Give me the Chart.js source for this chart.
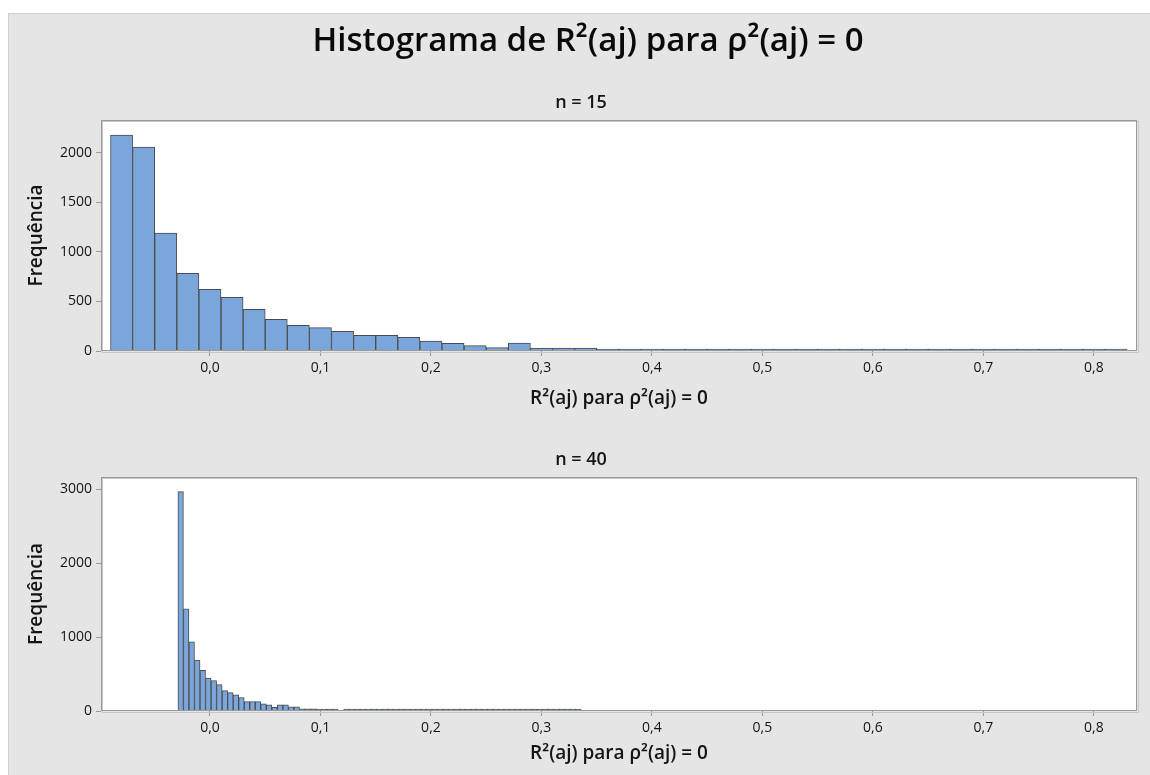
<!DOCTYPE html>
<html>
<head>
<meta charset="utf-8">
<script src="https://cdn.jsdelivr.net/npm/chart.js@4/dist/chart.umd.min.js"></script>
<style>
  body { margin: 0; background: #fff; width: 1150px; height: 775px; overflow: hidden; position: relative;
         font-family: "Open Sans", "Noto Sans", sans-serif; color: #141414; }
  #panel { position: absolute; left: 8px; top: 13px; width: 1142px; height: 762px; background: #e5e5e5;
           border-left: 1px solid #cfcfcf; border-top: 1px solid #cfcfcf; }
  canvas { position: absolute; left: 0; }
  #top { top: 0; }
  #bottom { top: 415px; }
  .lbl { position: absolute; left: 0; text-align: center; font-weight: 600; white-space: nowrap; }
  #mainTitle { top: 19px; width: 1176px; font-size: 33px; line-height: 40px; color: #0a0a0a; }
  #sub15 { top: 90px; width: 1162px; font-size: 18px; line-height: 22px; }
  #sub40 { top: 447px; width: 1162px; font-size: 18px; line-height: 22px; }
</style>
</head>
<body>
<div id="panel"></div>
<canvas id="top" width="1150" height="415"></canvas>
<canvas id="bottom" width="1150" height="360"></canvas>
<div class="lbl" id="mainTitle">Histograma de R²(aj) para ρ²(aj) = 0</div>
<div class="lbl" id="sub15">n = 15</div>
<div class="lbl" id="sub40">n = 40</div>
<script>
// n = 15 : bins of 0.02 starting at -0.09
const start15 = -0.09, width15 = 0.02;
const freq15 = [2180, 2060, 1190, 785, 623, 542, 421, 320, 260, 236,
                199, 157, 157, 137, 100, 78, 54, 34, 81, 30,
                30, 30, 17, 17, 15, 6, 5, 4, 3, 3,
                2, 2, 2, 1, 1, 1, 1, 1, 1, 1,
                1, 1, 1, 1, 1, 1];

// n = 40 : bins of 0.005 starting at -0.029
const start40 = -0.029, width40 = 0.005;
const freq40 = [2970, 1384, 935, 688, 550, 444, 413, 358, 275, 248,
                220, 180, 126, 126, 126, 98, 83, 50, 83, 83,
                55, 55, 28, 28, 28, 25, 25, 25, 25, null,
                25, 25, 25, 5, 5, 4, 4, 4, 3, 3,
                3, 3, 3, 2, 2, 2, 2, 2, 2, 2,
                2, 1, 1, 1, 1, 1, 1, 1, 1, 1,
                1, 1, 1, 1, 1, 1, 1, 1, 1, 1,
                1, 1, 1];

const xTicks = [0, 0.1, 0.2, 0.3, 0.4, 0.5, 0.6, 0.7, 0.8];
const yTicks15 = [0, 500, 1000, 1500, 2000];
const yTicks40 = [0, 1000, 2000, 3000];

const xTitle = 'R²(aj) para ρ²(aj) = 0';
const fontFam = '"Open Sans", "Noto Sans", sans-serif';
const txt = '#141414';

// white plot area + grey frame
const framePlugin = {
    id: 'frame',
    beforeDatasetsDraw(chart) {
        const { ctx, chartArea: a } = chart;
        ctx.save();
        ctx.fillStyle = '#fff';
        ctx.fillRect(a.left, a.top, a.width, a.height);
        ctx.restore();
    },
    afterDatasetsDraw(chart) {
        const { ctx, chartArea: a } = chart;
        ctx.save();
        ctx.strokeStyle = '#c8c8c8';
        ctx.lineWidth = 1;
        ctx.strokeRect(a.left + 1.5, a.top + 1.5, a.width, a.height);
        ctx.strokeStyle = '#9a9a9a';
        ctx.strokeRect(a.left + 0.5, a.top + 0.5, a.width - 1, a.height - 1);
        ctx.restore();
    }
};

function toPoints(startEdge, w, freqs) {
    return freqs.map((f, i) => ({ x: startEdge + w * (i + 0.5), y: f }));
}

function histogram(canvasId, points, yTicks, yMax, padTop, xTitlePad) {
    return new Chart(document.getElementById(canvasId), {
        type: 'bar',
        data: {
            datasets: [{
                data: points,
                backgroundColor: '#7ba6db',
                borderColor: '#4b4b4b',
                borderWidth: 1,
                minBarLength: 2,
                barPercentage: 1,
                categoryPercentage: 1
            }]
        },
        options: {
            responsive: false,
            animation: false,
            layout: { padding: { left: 0, right: 13, top: padTop, bottom: 0 } },
            plugins: { legend: { display: false }, tooltip: { enabled: false } },
            scales: {
                x: {
                    type: 'linear',
                    offset: false,
                    min: -0.0986,
                    max: 0.839,
                    afterBuildTicks: s => { s.ticks = xTicks.map(v => ({ value: v })); },
                    afterFit: s => { s.height = 64; },
                    grid: { offset: false, drawOnChartArea: false, drawTicks: true, tickLength: 5, color: '#9a9a9a' },
                    border: { display: false },
                    ticks: {
                        color: txt, padding: 4, maxRotation: 0,
                        font: { family: fontFam, size: 14 },
                        callback: v => v.toFixed(1).replace('.', ',')
                    },
                    title: {
                        display: true, text: xTitle, color: txt,
                        font: { family: fontFam, size: 19, weight: '600' },
                        padding: { top: 0, bottom: xTitlePad }
                    }
                },
                y: {
                    min: 0,
                    max: yMax,
                    afterBuildTicks: s => { s.ticks = yTicks.map(v => ({ value: v })); },
                    afterFit: s => { s.width = 101; },
                    grid: { drawOnChartArea: false, drawTicks: true, tickLength: 5, color: '#9a9a9a' },
                    border: { display: false },
                    ticks: {
                        color: txt, padding: 4, font: { family: fontFam, size: 14 },
                        callback: v => String(v)
                    },
                    title: {
                        display: true, text: 'Frequência', color: txt,
                        font: { family: fontFam, size: 19, weight: '600' },
                        padding: { top: 25.6, bottom: 0 }
                    }
                }
            }
        },
        plugins: [framePlugin]
    });
}

histogram('top', toPoints(start15, width15, freq15), yTicks15, 2333, 120, 5);
histogram('bottom', toPoints(start40, width40, freq40), yTicks40, 3168, 62, 10);
</script>
</body>
</html>
